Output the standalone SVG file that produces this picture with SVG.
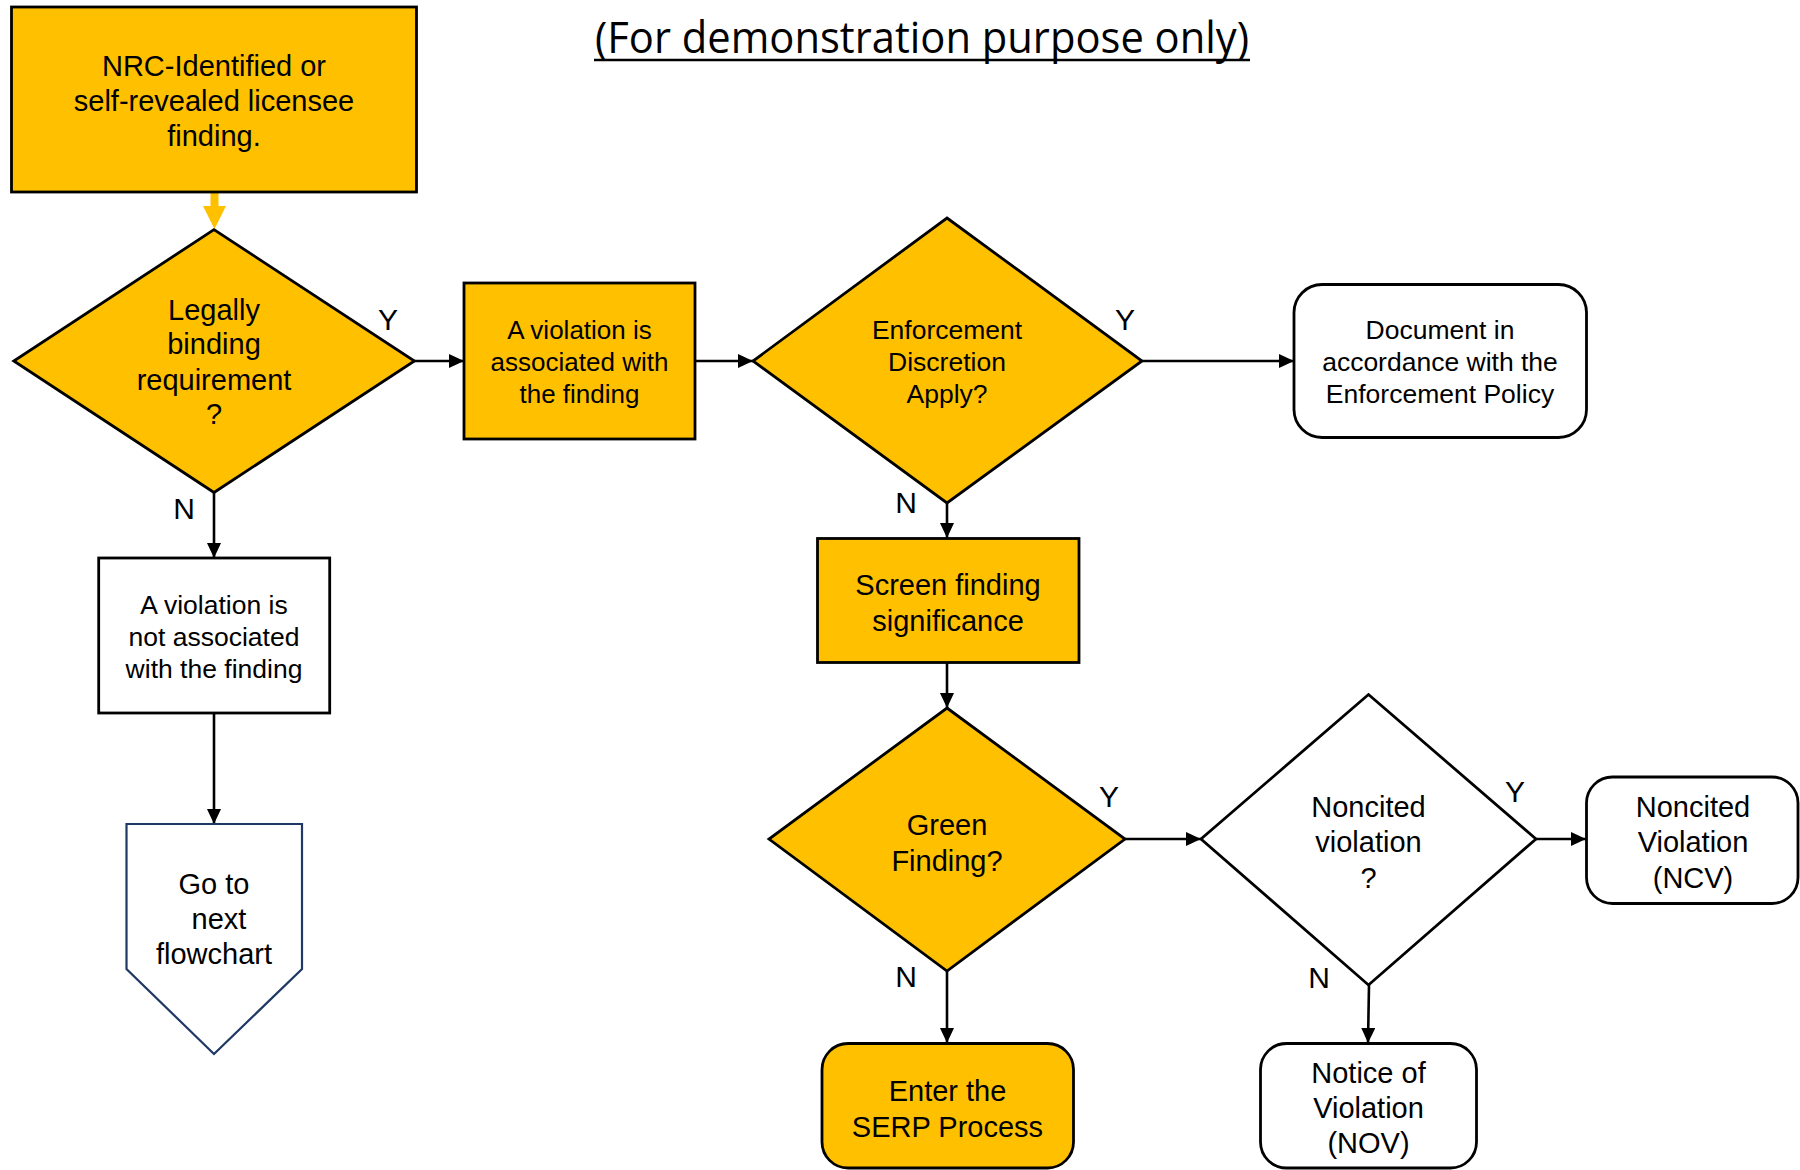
<svg xmlns="http://www.w3.org/2000/svg" width="1800" height="1170" viewBox="0 0 1800 1170">
<style>
.o{fill:#FFC000;stroke:#000;stroke-width:2.8}
.w{fill:#fff;stroke:#000;stroke-width:2.8}
.t{font-family:"Liberation Sans",Arial,sans-serif;fill:#000;text-anchor:middle}
.c{stroke:#000;stroke-width:2.6;fill:none;marker-end:url(#ah)}
.lbl{font-family:"Liberation Sans",Arial,sans-serif;font-size:30px;fill:#000;text-anchor:middle}
</style>
<defs>
<marker id="ah" markerUnits="userSpaceOnUse" markerWidth="15" markerHeight="14" refX="15" refY="7" orient="auto">
<path d="M0,0 L15,7 L0,14 z" fill="#000"/>
</marker>
</defs>
<rect width="1800" height="1170" fill="#fff"/>
<g id="title">
<text x="922" y="53" font-family="'Open Sans','Noto Sans',sans-serif" font-size="44" text-anchor="middle" textLength="654" lengthAdjust="spacingAndGlyphs">(For demonstration purpose only)</text>
<line x1="594" y1="60" x2="1250" y2="60" stroke="#000" stroke-width="2.5"/>
</g>
<g id="connectors">
<rect x="210.5" y="192" width="8" height="15" fill="#FFC000"/>
<polygon points="203,206 226,206 214.5,229" fill="#FFC000"/>
<line class="c" x1="414" y1="361" x2="464" y2="361"/>
<line class="c" x1="695" y1="361" x2="753" y2="361"/>
<line class="c" x1="1142" y1="361" x2="1294" y2="361"/>
<line class="c" x1="947" y1="503" x2="947" y2="538"/>
<line class="c" x1="947" y1="662" x2="947" y2="708"/>
<line class="c" x1="1125" y1="839" x2="1201" y2="839"/>
<line class="c" x1="1536" y1="839" x2="1586" y2="839"/>
<line class="c" x1="947" y1="971" x2="947" y2="1043"/>
<line class="c" x1="1369" y1="985" x2="1368" y2="1043"/>
<line class="c" x1="214" y1="493" x2="214" y2="558"/>
<line class="c" x1="214" y1="713" x2="214" y2="824"/>
<text class="lbl" x="388" y="330">Y</text>
<text class="lbl" x="184" y="519">N</text>
<text class="lbl" x="1125" y="330">Y</text>
<text class="lbl" x="906" y="513">N</text>
<text class="lbl" x="1109" y="807">Y</text>
<text class="lbl" x="906" y="987">N</text>
<text class="lbl" x="1515" y="802">Y</text>
<text class="lbl" x="1319" y="988">N</text>
</g>
<g id="start">
<rect class="o" x="11.5" y="7" width="405" height="185"/>
<text class="t" font-size="29"><tspan x="214" y="76">NRC-Identified or</tspan><tspan x="214" y="111">self-revealed licensee</tspan><tspan x="214" y="146">finding.</tspan></text>
</g>
<g id="legally">
<polygon class="o" points="214,229.6 414.4,361 214,492.5 13.8,361"/>
<text class="t" font-size="29"><tspan x="214" y="320">Legally</tspan><tspan x="214" y="354">binding</tspan><tspan x="214" y="390">requirement</tspan><tspan x="214" y="424">?</tspan></text>
</g>
<g id="violation">
<rect class="o" x="464" y="283" width="231" height="156"/>
<text class="t" font-size="26"><tspan x="579.5" y="339">A violation is</tspan><tspan x="579.5" y="371">associated with</tspan><tspan x="579.5" y="403">the finding</tspan></text>
</g>
<g id="discretion">
<polygon class="o" points="947,218 1142,361 947,503 753,361"/>
<text class="t" font-size="26.5"><tspan x="947" y="339">Enforcement</tspan><tspan x="947" y="371">Discretion</tspan><tspan x="947" y="403">Apply?</tspan></text>
</g>
<g id="document">
<rect class="w" x="1294" y="284.5" width="292.5" height="153" rx="28"/>
<text class="t" font-size="26.5"><tspan x="1440" y="339">Document in</tspan><tspan x="1440" y="371">accordance with the</tspan><tspan x="1440" y="403">Enforcement Policy</tspan></text>
</g>
<g id="notassociated">
<rect class="w" x="98.7" y="558" width="231" height="155"/>
<text class="t" font-size="26.5"><tspan x="214" y="614">A violation is</tspan><tspan x="214" y="646">not associated</tspan><tspan x="214" y="678">with the finding</tspan></text>
</g>
<g id="nextchart">
<polygon points="126.5,824 302,824 302,969 214,1054 126.5,969" fill="#fff" stroke="#1F3864" stroke-width="2.2"/>
<text class="t" font-size="29"><tspan x="214" y="894">Go to</tspan><tspan x="219" y="929">next</tspan><tspan x="214" y="964">flowchart</tspan></text>
</g>
<g id="screen">
<rect class="o" x="817.5" y="538.5" width="261.5" height="124"/>
<text class="t" font-size="29"><tspan x="948" y="594.5">Screen finding</tspan><tspan x="948" y="630.5">significance</tspan></text>
</g>
<g id="green">
<polygon class="o" points="947,708 1125,839 947,971 769,839"/>
<text class="t" font-size="29"><tspan x="947" y="834.5">Green</tspan><tspan x="947" y="870.5">Finding?</tspan></text>
</g>
<g id="noncited">
<polygon class="w" points="1368.5,694.5 1536,839 1368.5,985 1201,839"/>
<text class="t" font-size="29"><tspan x="1368.5" y="816.5">Noncited</tspan><tspan x="1368.5" y="852">violation</tspan><tspan x="1368.5" y="887.5">?</tspan></text>
</g>
<g id="ncv">
<rect class="w" x="1586.5" y="777" width="211.5" height="126.5" rx="26"/>
<text class="t" font-size="29"><tspan x="1693" y="816.5">Noncited</tspan><tspan x="1693" y="852">Violation</tspan><tspan x="1693" y="887.5">(NCV)</tspan></text>
</g>
<g id="nov">
<rect class="w" x="1260.5" y="1043.5" width="216" height="124.5" rx="26"/>
<text class="t" font-size="29"><tspan x="1368.5" y="1082.5">Notice of</tspan><tspan x="1368.5" y="1118">Violation</tspan><tspan x="1368.5" y="1152.5">(NOV)</tspan></text>
</g>
<g id="serp">
<rect class="o" x="822" y="1043.5" width="251.5" height="124.5" rx="26"/>
<text class="t" font-size="29"><tspan x="947.5" y="1101">Enter the</tspan><tspan x="947.5" y="1136.5">SERP Process</tspan></text>
</g>
</svg>
